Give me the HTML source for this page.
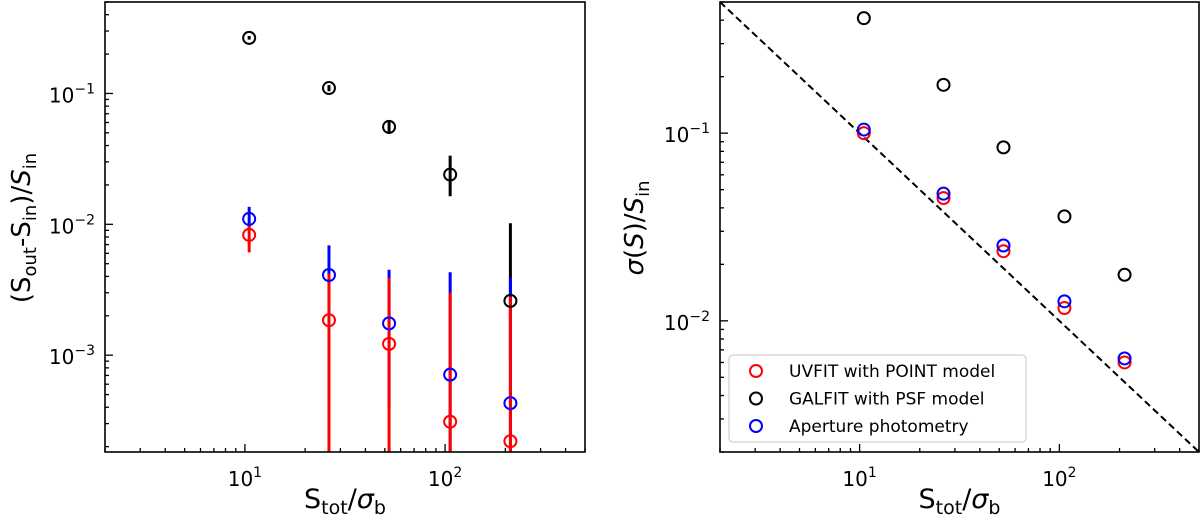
<!DOCTYPE html>
<html><head><meta charset="utf-8"><style>
html,body{margin:0;padding:0;background:#fff;}
svg{display:block;font-family:"DejaVu Sans","Liberation Sans",sans-serif;}
</style></head><body>
<svg id="fig" width="1200" height="526" viewBox="0 0 1200 526" xmlns="http://www.w3.org/2000/svg">
<g id="left"></g>
<g id="right"></g>
</svg>
<script>
// shared x data (S_tot / sigma_b)
const xVals = [10.5, 26.3, 52.5, 106, 212];
// left panel: (S_out - S_in)/S_in
const leftBlack = [0.266, 0.110, 0.0555, 0.0240, 0.0026];
const leftBlackHi = [0.275, 0.116, 0.061, 0.0335, 0.0102];
const leftBlackLo = [0.258, 0.104, 0.049, 0.0164, 0.0009];
const leftBlue = [0.0110, 0.0041, 0.00175, 0.00071, 0.00043];
const leftBlueHi = [0.0136, 0.0069, 0.0045, 0.0043, 0.0039];
const leftBlueLo = [0.0090, 0.0019, 0.0004, 0.0001, 0.0001];
const leftRed = [0.0083, 0.00185, 0.00122, 0.00031, 0.00022];
const leftRedHi = [0.0100, 0.0042, 0.0039, 0.0030, 0.0028];
const leftRedLo = [0.0061, 1e-6, 1e-6, 1e-6, 1e-6];
// right panel: sigma(S)/S_in
const rightBlack = [0.41, 0.181, 0.084, 0.036, 0.0176];
const rightRed = [0.100, 0.0451, 0.0235, 0.0117, 0.0060];
const rightBlue = [0.1045, 0.0476, 0.0252, 0.0127, 0.0063];
const xTickLabels = ["1", "2"];
const legendLabels = ["UVFIT with POINT model", "GALFIT with PSF model", "Aperture photometry"];

const NS = "http://www.w3.org/2000/svg";
function mk(parent, tag, attrs) {
  const e = document.createElementNS(NS, tag);
  for (const k in attrs) e.setAttribute(k, attrs[k]);
  parent.appendChild(e);
  return e;
}
function makeAxes(g, x0, x1, y0, y1, xmin, xmax, ymin, ymax) {
  const lx0 = Math.log10(xmin), lx1 = Math.log10(xmax), ly0 = Math.log10(ymin), ly1 = Math.log10(ymax);
  const X = v => x0 + (Math.log10(v) - lx0) / (lx1 - lx0) * (x1 - x0);
  const Y = v => { const c = Math.max(v, ymin * 0.5); return y1 - (Math.log10(c) - ly0) / (ly1 - ly0) * (y1 - y0); };
  return {X, Y, x0, x1, y0, y1, xmin, xmax, ymin, ymax};
}
function drawFrame(g, ax, yDecades) {
  for (let d = -4; d <= 3; d++) {
    for (let m = 1; m <= 9; m++) {
      const v = m * Math.pow(10, d);
      if (v >= ax.xmin && v <= ax.xmax) {
        const x = ax.X(v);
        const t = mk(g, "line", {x1: x, x2: x, y1: ax.y1, y2: ax.y1 - (m === 1 ? 8 : 4), stroke: "#000", "stroke-width": 1.3});
        
        
      }
      if (v >= ax.ymin && v <= ax.ymax) {
        const y = ax.Y(v);
        const t = mk(g, "line", {x1: ax.x0, x2: ax.x0 + (m === 1 ? 8 : 4), y1: y, y2: y, stroke: "#000", "stroke-width": 1.3});
        
        
      }
    }
  }
  xTickLabels.forEach(p => {
    const x = ax.X(Math.pow(10, +p));
    const t = mk(g, "text", {x: x, y: ax.y1 + 34, "font-size": 20, "text-anchor": "middle"});
    
    
    t.innerHTML = '10<tspan font-size="14" dy="-9">' + p + '</tspan>';
  });
  yDecades.forEach(p => {
    const y = ax.Y(Math.pow(10, p));
    const t = mk(g, "text", {x: ax.x0 - 10, y: y + 9, "font-size": 20, "text-anchor": "end"});
    
    
    t.innerHTML = '10<tspan font-size="14" dy="-9">\u2212' + (-p) + '</tspan>';
  });
  const r = mk(g, "rect", {x: ax.x0, y: ax.y0, width: ax.x1 - ax.x0, height: ax.y1 - ax.y0, fill: "none", stroke: "#000", "stroke-width": 1.6});
  
  
  const xl = mk(g, "text", {x: (ax.x0 + ax.x1) / 2, y: 508, "font-size": 27, "text-anchor": "middle"});
  
  
  xl.innerHTML = 'S<tspan font-size="19" dy="6">tot</tspan><tspan dy="-6">/</tspan><tspan font-style="italic">σ</tspan><tspan font-size="19" dy="6">b</tspan>';
}
function drawErr(g, ax, xs, lo, hi, color, name) {
  xs.forEach((xv, i) => {
    const x = ax.X(xv);
    const l = mk(g, "line", {x1: x, x2: x, y1: ax.Y(lo[i]), y2: ax.Y(hi[i]), stroke: color, "stroke-width": 3});
    
    
  });
}
function drawPts(g, ax, xs, ys, color, name) {
  xs.forEach((xv, i) => {
    const c = mk(g, "circle", {cx: ax.X(xv), cy: ax.Y(ys[i]), r: 6, fill: "none", stroke: color, "stroke-width": 2});
    
    
  });
}

// LEFT
const gL = document.getElementById("left");
const axL = makeAxes(gL, 105, 585, 2, 452, 2, 500, 1.82e-4, 0.5);
const clipL = mk(gL, "clipPath", {id: "clipL"});
mk(clipL, "rect", {x: 105, y: 2, width: 480, height: 450});
const dL = mk(gL, "g", {"clip-path": "url(#clipL)"});


drawErr(dL, axL, xVals, leftBlackLo, leftBlackHi, "#000", "galfit-error-bar");
drawErr(dL, axL, xVals, leftBlueLo, leftBlueHi, "#0000ff", "aperture-error-bar");
drawErr(dL, axL, xVals, leftRedLo, leftRedHi, "#ff0000", "uvfit-error-bar");
drawPts(dL, axL, xVals, leftBlack, "#000", "galfit-point");
drawPts(dL, axL, xVals, leftBlue, "#0000ff", "aperture-point");
drawPts(dL, axL, xVals, leftRed, "#ff0000", "uvfit-point");
drawFrame(gL, axL, [-1, -2, -3]);
const yl = mk(gL, "text", {x: 0, y: 0, "font-size": 26, "text-anchor": "middle", transform: "translate(30,228) rotate(-90)"});


yl.innerHTML = '(S<tspan font-size="18" dy="6">out</tspan><tspan dy="-6">-S</tspan><tspan font-size="18" dy="6">in</tspan><tspan dy="-6">)/</tspan><tspan font-style="italic">S</tspan><tspan font-size="18" dy="6">in</tspan>';

// RIGHT
const gR = document.getElementById("right");
const axR = makeAxes(gR, 720, 1199, 2, 452, 2, 500, 2e-3, 0.5);
const clipR = mk(gR, "clipPath", {id: "clipR"});
mk(clipR, "rect", {x: 720, y: 2, width: 479, height: 450});
const dR = mk(gR, "g", {"clip-path": "url(#clipR)"});


const ref = mk(dR, "line", {x1: axR.X(2), y1: axR.Y(1 / 2), x2: axR.X(500), y2: axR.Y(1 / 500), stroke: "#000", "stroke-width": 2, "stroke-dasharray": "7,4"});


drawPts(dR, axR, xVals, rightBlack, "#000", "galfit-point");
drawPts(dR, axR, xVals, rightRed, "#ff0000", "uvfit-point");
drawPts(dR, axR, xVals, rightBlue, "#0000ff", "aperture-point");
drawFrame(gR, axR, [-1, -2]);
const yr = mk(gR, "text", {x: 0, y: 0, "font-size": 26, "text-anchor": "middle", transform: "translate(643,228) rotate(-90)"});


yr.innerHTML = '<tspan font-style="italic">σ</tspan>(<tspan font-style="italic">S</tspan>)/<tspan font-style="italic">S</tspan><tspan font-size="18" dy="6">in</tspan>';

// legend
const lg = mk(gR, "g", {});


mk(lg, "rect", {x: 729, y: 355, width: 297, height: 87, rx: 4, fill: "#fff", "fill-opacity": 0.8, stroke: "#d0d0d0", "stroke-width": 1.2});
const legColors = ["#ff0000", "#000", "#0000ff"];
legendLabels.forEach((lab, i) => {
  const y = 371 + i * 27.5;
  const e = mk(lg, "g", {});
  
  
  mk(e, "circle", {cx: 756, cy: y, r: 6, fill: "none", stroke: legColors[i], "stroke-width": 2});
  const t = mk(e, "text", {x: 789, y: y + 6, "font-size": 17});
  t.textContent = lab;
});
</script>
</body></html>
